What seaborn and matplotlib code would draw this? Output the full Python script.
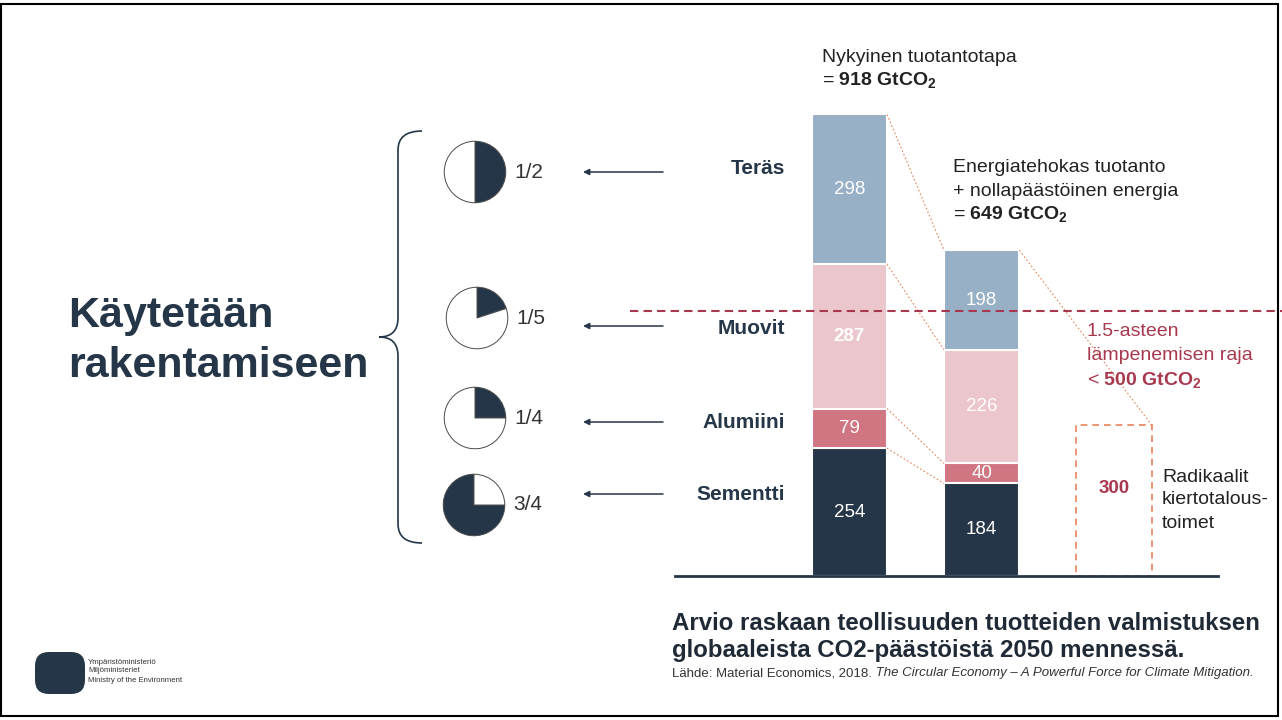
import numpy as np
import pandas as pd
import seaborn as sns
import matplotlib.pyplot as plt
from matplotlib.path import Path
from matplotlib.patches import PathPatch, FancyBboxPatch, Rectangle

# data
scenarios = ["Nykyinen tuotantotapa", "Energiatehokas tuotanto"]
materials = ["Sementti", "Alumiini", "Muovit", "Teräs"]
current = [254, 79, 287, 298]
efficient = [184, 40, 226, 198]
circular = 300
limit_line = 527   # where the dashed 1.5 degree line sits on the bar scale
pie_share = [1/2, 1/5, 1/4, 3/4]
pie_text = ["1/2", "1/5", "1/4", "3/4"]
mat_labels = ["Teräs", "Muovit", "Alumiini", "Sementti"]

navy = "#243647"
seg_colors = [navy, "#d07582", "#ecc6cd", "#97b0c6"]
red = "#a8384e"
orange = "#e8825a"

sns.set_theme(style="white")
plt.rcParams['font.family'] = ['Liberation Sans', 'DejaVu Sans']
plt.rcParams['mathtext.fontset'] = 'custom'
plt.rcParams['mathtext.rm'] = 'Liberation Sans'
plt.rcParams['mathtext.bf'] = 'Liberation Sans:bold'
plt.rcParams['mathtext.it'] = 'Liberation Sans:italic'

W, H = 1282, 720
fig = plt.figure(figsize=(W / 100, H / 100), dpi=100)
fig.patch.set_facecolor("white")

# bar axes, pixel box 675..1218 x, baseline at y=576
ax = fig.add_axes([675 / W, (H - 576) / H, (1218 - 675) / W, 553 / H])
bar_w = 0.57

cum_cur = np.cumsum(current)
cum_eff = np.cumsum(efficient)
# stacked look: draw cumulative totals from the top layer down
for i in reversed(range(len(materials))):
    sns.barplot(x=scenarios, y=[cum_cur[i], cum_eff[i]], color=seg_colors[i],
                saturation=1, width=bar_w, edgecolor="white", linewidth=1.5, ax=ax)

ax.bar(2, circular, width=bar_w, fill=False, edgecolor=orange, linestyle=(0, (4, 3)), linewidth=1.2)

ax.set_xlim(-1.317, 2.785)
ax.set_ylim(0, 1100)
ax.set_xticks([])
ax.set_yticks([])
ax.set_xlabel("")
ax.set_ylabel("")
for s in ["top", "left", "right"]:
    ax.spines[s].set_visible(False)
ax.spines["bottom"].set_color(navy)
ax.spines["bottom"].set_linewidth(2)

# segment values
for j, vals in enumerate([current, efficient]):
    bottom = 0
    for i, v in enumerate(vals):
        weight = "bold" if (j == 0 and i == 2) else "normal"
        ax.text(j, bottom + v / 2, str(v), ha="center", va="center", color="white",
                fontsize=13.5, fontweight=weight)
        bottom += v
ax.text(2, circular * 0.58, str(circular), ha="center", va="center", color=red,
        fontsize=13.5, fontweight="bold")

# dotted connectors between the bars
for a, b in zip(cum_cur, cum_eff):
    ax.plot([bar_w / 2, 1 - bar_w / 2], [a, b], color=orange, lw=0.8, ls=(0, (1.5, 2)))
ax.plot([1 + bar_w / 2, 2 + bar_w / 2], [cum_eff[-1], circular], color=orange, lw=0.8, ls=(0, (1.5, 2)))

# 1.5 degree line
ax.axhline(limit_line, xmin=-0.083, xmax=1.12, color=red, lw=1.5, ls=(0, (4, 2.5)), clip_on=False)

# overlay in pixel coordinates for texts and decorations
ov = fig.add_axes([0, 0, 1, 1])
ov.set_xlim(0, W)
ov.set_ylim(H, 0)
ov.axis("off")
ov.patch.set_alpha(0)

ov.add_patch(Rectangle((1, 4), W - 5, H - 8, fill=False, edgecolor="black", lw=1.5))

ov.text(68, 316, "Käytetään", fontsize=31, fontweight="bold", color=navy, va="center")
ov.text(68, 366, "rakentamiseen", fontsize=31, fontweight="bold", color=navy, va="center")

# curly bracket
verts = [(422, 131), (398, 131), (398, 150), (398, 318),
         (398, 337), (379, 337), (398, 337), (398, 356),
         (398, 524), (398, 543), (422, 543)]
codes = [Path.MOVETO, Path.CURVE3, Path.CURVE3, Path.LINETO,
         Path.CURVE3, Path.CURVE3, Path.CURVE3, Path.CURVE3,
         Path.LINETO, Path.CURVE3, Path.CURVE3]
ov.add_patch(PathPatch(Path(verts, codes), fill=False, edgecolor=navy, lw=1.2))

# pies, arrows and material names
pie_xy = [(475, 172), (477, 318), (475, 418), (474, 505)]
arrow_y = [172, 326, 422, 494]
label_y = [168, 329, 423, 494]
for k in range(4):
    cx, cy = pie_xy[k]
    r = 32
    pa = fig.add_axes([(cx - r) / W, (H - cy - r) / H, 2 * r / W, 2 * r / H])
    f = pie_share[k]
    pa.pie([f, 1 - f], colors=[navy, "white"], startangle=90, counterclock=f > 0.5,
           wedgeprops=dict(edgecolor="#4a4a4a", linewidth=0.7))
    pa.set_xlim(-1.04, 1.04)
    pa.set_ylim(-1.04, 1.04)
    pa.set_aspect("equal")
    ov.text(cx + 39, cy, pie_text[k], fontsize=15, color="#333333", va="center")
    ov.annotate("", xy=(583, arrow_y[k]), xytext=(663, arrow_y[k]),
                arrowprops=dict(arrowstyle="-|>", color=navy, lw=1.1,
                                mutation_scale=9, shrinkA=0, shrinkB=0))
    ov.text(785, label_y[k], mat_labels[k], fontsize=15, fontweight="bold",
            color=navy, ha="right", va="center")

# annotations on the right side
fs = 14
ov.text(822, 57, "Nykyinen tuotantotapa", fontsize=fs, color="#222222", va="center")
ov.text(822, 80, r"= $\mathbf{918\ GtCO_2}$", fontsize=fs, color="#222222", va="center")
ov.text(953, 168, "Energiatehokas tuotanto", fontsize=fs, color="#222222", va="center")
ov.text(953, 191, "+ nollapäästöinen energia", fontsize=fs, color="#222222", va="center")
ov.text(953, 214, r"= $\mathbf{649\ GtCO_2}$", fontsize=fs, color="#222222", va="center")
ov.text(1087, 331, "1.5-asteen", fontsize=fs, color=red, va="center")
ov.text(1087, 355, "lämpenemisen raja", fontsize=fs, color=red, va="center")
ov.text(1087, 380, r"< $\mathbf{500\ GtCO_2}$", fontsize=fs, color=red, va="center")
ov.text(1162, 478, "Radikaalit", fontsize=fs, color="#222222", va="center")
ov.text(1162, 500, "kiertotalous-", fontsize=fs, color="#222222", va="center")
ov.text(1162, 523, "toimet", fontsize=fs, color="#222222", va="center")

# bottom title and source
ov.text(672, 623, "Arvio raskaan teollisuuden tuotteiden valmistuksen", fontsize=17.3,
        fontweight="bold", color="#1f2a36", va="center")
ov.text(672, 651, "globaaleista CO2-päästöistä 2050 mennessä.", fontsize=17.3,
        fontweight="bold", color="#1f2a36", va="center")
src = ov.text(672, 673, "Lähde: Material Economics, 2018.", fontsize=9.5, color="#333333", va="center")
ov.annotate(" The Circular Economy – A Powerful Force for Climate Mitigation.", xy=(1, 0.5),
            xycoords=src, fontsize=9.5, style="italic", color="#333333", va="center")

# ministry logo
ov.add_patch(FancyBboxPatch((38, 655), 44, 36, boxstyle="round,pad=3,rounding_size=14",
                            facecolor=navy, edgecolor="none"))
ov.text(88, 662, "Ympäristöministeriö", fontsize=5.6, color="#333333", va="center")
ov.text(88, 671, "Miljöministeriet", fontsize=5.6, color="#333333", va="center")
ov.text(88, 680, "Ministry of the Environment", fontsize=5.6, color="#333333", va="center")

fig.savefig("out.png", dpi=100)
